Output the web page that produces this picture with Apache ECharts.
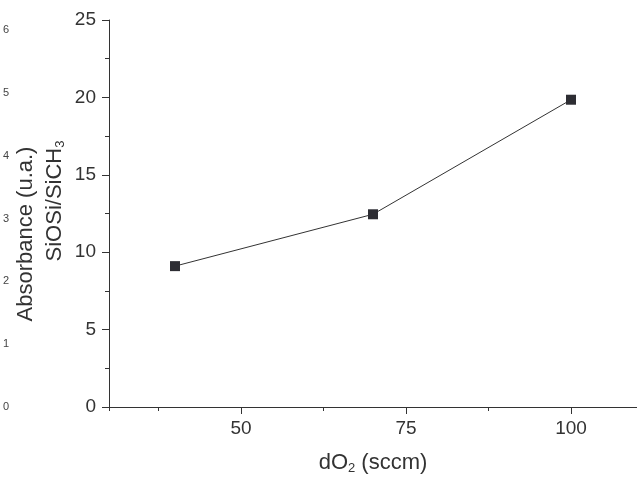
<!DOCTYPE html>
<html>
<head>
<meta charset="utf-8">
<script src="https://cdn.jsdelivr.net/npm/echarts@6/dist/echarts.min.js"></script>
<style>
html,body{margin:0;padding:0;background:#fff;}
#chart{width:637px;height:480px;}
</style>
</head>
<body>
<div id="chart"></div>
<script>
// Data
var xValues = [40, 70, 100];
var yValues = [9.1, 12.45, 19.85];
var leftTicks = [0, 1, 2, 3, 4, 5, 6];

var FONT = 'Liberation Sans, Arial, sans-serif';
var INK = '#333333';

var chart = echarts.init(document.getElementById('chart'), null, {renderer: 'canvas'});
var seriesData = xValues.map(function (x, i) { return [x, yValues[i]]; });

var option = {
  backgroundColor: '#ffffff',
  animation: false,
  grid: [
    {left: 109, right: 0, top: 20, bottom: 73},
    {left: 10, width: 5, top: 30, bottom: 73}
  ],
  xAxis: [
    {
      gridIndex: 0, type: 'value', position: 'bottom',
      min: 30, max: 110, minInterval: 25, maxInterval: 25,
      axisLine: {show: true, lineStyle: {color: INK, width: 1}},
      axisTick: {show: true, inside: false, length: 7, lineStyle: {color: INK, width: 1}},
      axisLabel: {show: true, color: INK, fontSize: 19, fontFamily: FONT, margin: 12,
        showMinLabel: false, showMaxLabel: false,
        formatter: function (v) { return (v % 25 === 0) ? String(v) : ''; }},
      splitLine: {show: false},
      name: 'dO{sub|2} (sccm)',
      nameLocation: 'middle',
      nameGap: 44,
      nameTextStyle: {
        color: INK, fontSize: 22, fontFamily: FONT, lineHeight: 24,
        rich: {sub: {fontSize: 13, fontFamily: FONT, color: INK, lineHeight: 13, padding: [14, 0, 0, 0], verticalAlign: 'bottom'}}
      }
    },
    {
      gridIndex: 0, type: 'value', position: 'bottom',
      min: 30, max: 110, minInterval: 12.5, maxInterval: 12.5,
      axisLine: {show: false},
      axisTick: {show: true, inside: false, length: 4, lineStyle: {color: INK, width: 1}},
      axisLabel: {show: false},
      splitLine: {show: false}
    },
    {
      gridIndex: 1, type: 'value', show: false, min: 0, max: 1
    }
  ],
  yAxis: [
    {
      gridIndex: 0, type: 'value', position: 'left',
      min: 0, max: 25, interval: 5,
      axisLine: {show: true, lineStyle: {color: INK, width: 1}},
      axisTick: {show: true, inside: false, length: 7, lineStyle: {color: INK, width: 1}},
      minorTick: {show: true, splitNumber: 2, length: 4, lineStyle: {color: INK, width: 1}},
      axisLabel: {color: INK, fontSize: 19, fontFamily: FONT, margin: 13},
      splitLine: {show: false},
      minorSplitLine: {show: false}
    },
    {
      gridIndex: 1, type: 'value', position: 'left',
      min: leftTicks[0], max: leftTicks[leftTicks.length - 1], interval: 1,
      axisLine: {show: false},
      axisTick: {show: false},
      axisLabel: {color: '#444444', fontSize: 11, fontFamily: FONT, margin: 1},
      splitLine: {show: false}
    }
  ],
  graphic: [
    {
      type: 'text', x: 26, y: 234, rotation: Math.PI / 2,
      style: {text: 'Absorbance (u.a.)', font: '22px ' + FONT, fill: INK, textAlign: 'center', textVerticalAlign: 'middle'}
    },
    {
      type: 'text', x: 55, y: 201, rotation: Math.PI / 2,
      style: {
        text: 'SiOSi/SiCH{sub|3}', font: '22px ' + FONT, fill: INK, textAlign: 'center', textVerticalAlign: 'middle',
        lineHeight: 24,
        rich: {sub: {fontSize: 13, fontFamily: FONT, fill: INK, lineHeight: 13, padding: [14, 0, 0, 0], verticalAlign: 'bottom'}}
      }
    }
  ],
  series: [
    {
      type: 'line', xAxisIndex: 0, yAxisIndex: 0,
      data: seriesData,
      symbol: 'rect', symbolSize: 10,
      itemStyle: {color: '#2d2d33'},
      lineStyle: {color: INK, width: 1},
      z: 5
    }
  ]
};
chart.setOption(option);
</script>
</body>
</html>
